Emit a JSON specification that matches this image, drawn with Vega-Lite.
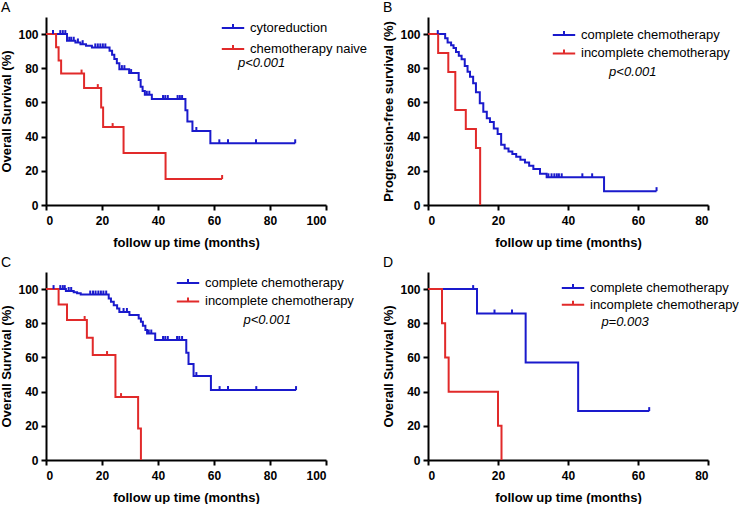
{
  "$schema": "https://vega.github.io/schema/vega-lite/v6.json",
  "padding": {"left": 0, "top": 1, "right": 0, "bottom": 0},
  "background": "white",
  "config": {
    "font": "Liberation Sans",
    "view": {"stroke": null},
    "axis": {"domainColor": "#000", "domainWidth": 2, "tickColor": "#000", "tickWidth": 2, "tickSize": 5, "labelFont": "Liberation Sans", "labelFontSize": 12, "labelFontWeight": "bold", "labelColor": "#000", "labelOverlap": false, "titleFont": "Liberation Sans", "titleFontSize": 13, "titleFontWeight": "bold", "titleColor": "#000", "grid": false},
    "axisY": {"labelPadding": 3, "titlePadding": 4, "labelOverlap": false, "labelBound": false},
    "axisX": {"labelPadding": 5, "titlePadding": 10},
    "title": {"anchor": "start", "frame": "bounds", "fontSize": 14, "fontWeight": "normal", "color": "#000", "offset": 2, "font": "Liberation Sans"},
    "legend": {"orient": "none", "title": null, "padding": 0, "labelFont": "Liberation Sans", "labelFontSize": 13, "labelFontWeight": "normal", "labelColor": "#000", "labelLimit": 300, "symbolType": "M-1.4,0H1.4M0,0V-0.5", "symbolSize": 256, "symbolStrokeWidth": 2, "labelOffset": 8}
  },
  "datasets": {
    "A": [
      {"g": "cytoreduction", "t": 0, "s": 100, "c": 0},
      {"g": "cytoreduction", "t": 2.5, "s": 100, "c": 1},
      {"g": "cytoreduction", "t": 5.1, "s": 100, "c": 1},
      {"g": "cytoreduction", "t": 6.0, "s": 100, "c": 1},
      {"g": "cytoreduction", "t": 6.9, "s": 100, "c": 1},
      {"g": "cytoreduction", "t": 7.5, "s": 96.1, "c": 0},
      {"g": "cytoreduction", "t": 8.3, "s": 96.1, "c": 1},
      {"g": "cytoreduction", "t": 9.0, "s": 96.1, "c": 1},
      {"g": "cytoreduction", "t": 9.9, "s": 96.1, "c": 1},
      {"g": "cytoreduction", "t": 10.5, "s": 95.1, "c": 0},
      {"g": "cytoreduction", "t": 11.4, "s": 95.1, "c": 1},
      {"g": "cytoreduction", "t": 12.3, "s": 94.1, "c": 0},
      {"g": "cytoreduction", "t": 13.1, "s": 94.1, "c": 1},
      {"g": "cytoreduction", "t": 14.3, "s": 93.2, "c": 0},
      {"g": "cytoreduction", "t": 16.4, "s": 92.2, "c": 0},
      {"g": "cytoreduction", "t": 17.6, "s": 92.2, "c": 1},
      {"g": "cytoreduction", "t": 18.5, "s": 92.2, "c": 1},
      {"g": "cytoreduction", "t": 19.4, "s": 92.2, "c": 1},
      {"g": "cytoreduction", "t": 20.3, "s": 92.2, "c": 1},
      {"g": "cytoreduction", "t": 21.2, "s": 92.2, "c": 1},
      {"g": "cytoreduction", "t": 22.7, "s": 90.3, "c": 0},
      {"g": "cytoreduction", "t": 23.6, "s": 87.9, "c": 0},
      {"g": "cytoreduction", "t": 24.4, "s": 85.4, "c": 0},
      {"g": "cytoreduction", "t": 25.3, "s": 82.9, "c": 0},
      {"g": "cytoreduction", "t": 26.2, "s": 79.5, "c": 0},
      {"g": "cytoreduction", "t": 27.1, "s": 79.5, "c": 1},
      {"g": "cytoreduction", "t": 28.0, "s": 79.5, "c": 1},
      {"g": "cytoreduction", "t": 29.7, "s": 77.2, "c": 0},
      {"g": "cytoreduction", "t": 30.4, "s": 77.2, "c": 1},
      {"g": "cytoreduction", "t": 33.1, "s": 73.1, "c": 0},
      {"g": "cytoreduction", "t": 33.8, "s": 69.2, "c": 0},
      {"g": "cytoreduction", "t": 34.5, "s": 66.7, "c": 0},
      {"g": "cytoreduction", "t": 35.3, "s": 64.5, "c": 0},
      {"g": "cytoreduction", "t": 36.0, "s": 64.5, "c": 1},
      {"g": "cytoreduction", "t": 36.9, "s": 64.5, "c": 1},
      {"g": "cytoreduction", "t": 37.8, "s": 62, "c": 0},
      {"g": "cytoreduction", "t": 41.8, "s": 62, "c": 1},
      {"g": "cytoreduction", "t": 42.6, "s": 62, "c": 1},
      {"g": "cytoreduction", "t": 43.5, "s": 62, "c": 1},
      {"g": "cytoreduction", "t": 47.0, "s": 62, "c": 1},
      {"g": "cytoreduction", "t": 47.8, "s": 62, "c": 1},
      {"g": "cytoreduction", "t": 48.6, "s": 62, "c": 1},
      {"g": "cytoreduction", "t": 49.8, "s": 55.4, "c": 0},
      {"g": "cytoreduction", "t": 50.5, "s": 48.9, "c": 0},
      {"g": "cytoreduction", "t": 52.3, "s": 43.3, "c": 0},
      {"g": "cytoreduction", "t": 53.7, "s": 43.3, "c": 1},
      {"g": "cytoreduction", "t": 58.7, "s": 36.1, "c": 0},
      {"g": "cytoreduction", "t": 61.9, "s": 36.1, "c": 1},
      {"g": "cytoreduction", "t": 65, "s": 36.1, "c": 1},
      {"g": "cytoreduction", "t": 75, "s": 36.1, "c": 1},
      {"g": "cytoreduction", "t": 89, "s": 36.1, "c": 1},
      {"g": "chemotherapy naive", "t": 0, "s": 100, "c": 0},
      {"g": "chemotherapy naive", "t": 3.6, "s": 92.3, "c": 0},
      {"g": "chemotherapy naive", "t": 4.5, "s": 84.6, "c": 0},
      {"g": "chemotherapy naive", "t": 5.4, "s": 76.9, "c": 0},
      {"g": "chemotherapy naive", "t": 12.7, "s": 76.9, "c": 1},
      {"g": "chemotherapy naive", "t": 13.6, "s": 68.4, "c": 0},
      {"g": "chemotherapy naive", "t": 18.5, "s": 68.4, "c": 1},
      {"g": "chemotherapy naive", "t": 19.7, "s": 57, "c": 0},
      {"g": "chemotherapy naive", "t": 20.4, "s": 45.6, "c": 0},
      {"g": "chemotherapy naive", "t": 23.8, "s": 45.6, "c": 1},
      {"g": "chemotherapy naive", "t": 27.7, "s": 30.4, "c": 0},
      {"g": "chemotherapy naive", "t": 42.7, "s": 15.2, "c": 0},
      {"g": "chemotherapy naive", "t": 62.9, "s": 15.2, "c": 1}
    ],
    "B": [
      {"g": "complete chemotherapy", "t": 0, "s": 100, "c": 0},
      {"g": "complete chemotherapy", "t": 2.8, "s": 100, "c": 1},
      {"g": "complete chemotherapy", "t": 4.9, "s": 97.5, "c": 0},
      {"g": "complete chemotherapy", "t": 5.6, "s": 95.1, "c": 0},
      {"g": "complete chemotherapy", "t": 6.6, "s": 93.5, "c": 0},
      {"g": "complete chemotherapy", "t": 7.3, "s": 91.9, "c": 0},
      {"g": "complete chemotherapy", "t": 8.0, "s": 89.5, "c": 0},
      {"g": "complete chemotherapy", "t": 8.8, "s": 87.4, "c": 0},
      {"g": "complete chemotherapy", "t": 9.6, "s": 85.3, "c": 0},
      {"g": "complete chemotherapy", "t": 10.5, "s": 81.4, "c": 0},
      {"g": "complete chemotherapy", "t": 11.3, "s": 78, "c": 0},
      {"g": "complete chemotherapy", "t": 12.0, "s": 75, "c": 0},
      {"g": "complete chemotherapy", "t": 12.9, "s": 71.3, "c": 0},
      {"g": "complete chemotherapy", "t": 13.7, "s": 66, "c": 0},
      {"g": "complete chemotherapy", "t": 14.8, "s": 59.5, "c": 0},
      {"g": "complete chemotherapy", "t": 15.8, "s": 54.5, "c": 0},
      {"g": "complete chemotherapy", "t": 16.8, "s": 50.8, "c": 0},
      {"g": "complete chemotherapy", "t": 17.7, "s": 48.5, "c": 0},
      {"g": "complete chemotherapy", "t": 18.8, "s": 44.8, "c": 0},
      {"g": "complete chemotherapy", "t": 19.9, "s": 41.5, "c": 0},
      {"g": "complete chemotherapy", "t": 20.9, "s": 35.3, "c": 0},
      {"g": "complete chemotherapy", "t": 21.9, "s": 33, "c": 0},
      {"g": "complete chemotherapy", "t": 23.0, "s": 31.3, "c": 0},
      {"g": "complete chemotherapy", "t": 24.1, "s": 29.8, "c": 0},
      {"g": "complete chemotherapy", "t": 25.2, "s": 28.2, "c": 0},
      {"g": "complete chemotherapy", "t": 26.4, "s": 26.5, "c": 0},
      {"g": "complete chemotherapy", "t": 27.7, "s": 24.8, "c": 0},
      {"g": "complete chemotherapy", "t": 28.9, "s": 23, "c": 0},
      {"g": "complete chemotherapy", "t": 30.1, "s": 21, "c": 0},
      {"g": "complete chemotherapy", "t": 32.0, "s": 18.3, "c": 0},
      {"g": "complete chemotherapy", "t": 33.9, "s": 16.2, "c": 0},
      {"g": "complete chemotherapy", "t": 34.4, "s": 16.2, "c": 1},
      {"g": "complete chemotherapy", "t": 35.3, "s": 16.2, "c": 1},
      {"g": "complete chemotherapy", "t": 36.1, "s": 16.2, "c": 1},
      {"g": "complete chemotherapy", "t": 36.8, "s": 16.2, "c": 1},
      {"g": "complete chemotherapy", "t": 37.4, "s": 16.2, "c": 1},
      {"g": "complete chemotherapy", "t": 38.2, "s": 16.2, "c": 1},
      {"g": "complete chemotherapy", "t": 44.1, "s": 16.2, "c": 1},
      {"g": "complete chemotherapy", "t": 46.9, "s": 16.2, "c": 1},
      {"g": "complete chemotherapy", "t": 50.3, "s": 8.1, "c": 0},
      {"g": "complete chemotherapy", "t": 65.3, "s": 8.1, "c": 1},
      {"g": "incomplete chemotherapy", "t": 0, "s": 100, "c": 0},
      {"g": "incomplete chemotherapy", "t": 2.9, "s": 88.9, "c": 0},
      {"g": "incomplete chemotherapy", "t": 5.8, "s": 77.8, "c": 0},
      {"g": "incomplete chemotherapy", "t": 7.8, "s": 55.6, "c": 0},
      {"g": "incomplete chemotherapy", "t": 10.8, "s": 44.4, "c": 0},
      {"g": "incomplete chemotherapy", "t": 13.7, "s": 33.3, "c": 0},
      {"g": "incomplete chemotherapy", "t": 14.9, "s": 0, "c": 0}
    ],
    "C": [
      {"g": "complete chemotherapy", "t": 0, "s": 100, "c": 0},
      {"g": "complete chemotherapy", "t": 2.7, "s": 100, "c": 1},
      {"g": "complete chemotherapy", "t": 5.1, "s": 100, "c": 1},
      {"g": "complete chemotherapy", "t": 6.0, "s": 100, "c": 1},
      {"g": "complete chemotherapy", "t": 6.7, "s": 100, "c": 1},
      {"g": "complete chemotherapy", "t": 7.1, "s": 98.9, "c": 0},
      {"g": "complete chemotherapy", "t": 8.1, "s": 98.9, "c": 1},
      {"g": "complete chemotherapy", "t": 9.0, "s": 98.9, "c": 1},
      {"g": "complete chemotherapy", "t": 9.9, "s": 98.1, "c": 0},
      {"g": "complete chemotherapy", "t": 11.1, "s": 97.5, "c": 0},
      {"g": "complete chemotherapy", "t": 12.4, "s": 96.8, "c": 0},
      {"g": "complete chemotherapy", "t": 15.8, "s": 96.8, "c": 1},
      {"g": "complete chemotherapy", "t": 16.8, "s": 96.8, "c": 1},
      {"g": "complete chemotherapy", "t": 17.7, "s": 96.8, "c": 1},
      {"g": "complete chemotherapy", "t": 18.7, "s": 96.8, "c": 1},
      {"g": "complete chemotherapy", "t": 19.6, "s": 96.8, "c": 1},
      {"g": "complete chemotherapy", "t": 20.5, "s": 96.8, "c": 1},
      {"g": "complete chemotherapy", "t": 21.5, "s": 96.8, "c": 1},
      {"g": "complete chemotherapy", "t": 22.4, "s": 94.5, "c": 0},
      {"g": "complete chemotherapy", "t": 23.2, "s": 92.6, "c": 0},
      {"g": "complete chemotherapy", "t": 24.2, "s": 90.6, "c": 0},
      {"g": "complete chemotherapy", "t": 25.4, "s": 88.7, "c": 0},
      {"g": "complete chemotherapy", "t": 26.2, "s": 86.6, "c": 0},
      {"g": "complete chemotherapy", "t": 27.7, "s": 86.6, "c": 1},
      {"g": "complete chemotherapy", "t": 28.9, "s": 86.6, "c": 1},
      {"g": "complete chemotherapy", "t": 29.8, "s": 84.8, "c": 0},
      {"g": "complete chemotherapy", "t": 33.1, "s": 82.8, "c": 0},
      {"g": "complete chemotherapy", "t": 33.9, "s": 80.9, "c": 0},
      {"g": "complete chemotherapy", "t": 34.6, "s": 78.5, "c": 0},
      {"g": "complete chemotherapy", "t": 35.5, "s": 76, "c": 0},
      {"g": "complete chemotherapy", "t": 36.1, "s": 74, "c": 0},
      {"g": "complete chemotherapy", "t": 36.7, "s": 74, "c": 1},
      {"g": "complete chemotherapy", "t": 37.6, "s": 74, "c": 1},
      {"g": "complete chemotherapy", "t": 39.0, "s": 70.2, "c": 0},
      {"g": "complete chemotherapy", "t": 41.8, "s": 70.2, "c": 1},
      {"g": "complete chemotherapy", "t": 42.6, "s": 70.2, "c": 1},
      {"g": "complete chemotherapy", "t": 43.5, "s": 70.2, "c": 1},
      {"g": "complete chemotherapy", "t": 46.8, "s": 70.2, "c": 1},
      {"g": "complete chemotherapy", "t": 47.6, "s": 70.2, "c": 1},
      {"g": "complete chemotherapy", "t": 48.6, "s": 70.2, "c": 1},
      {"g": "complete chemotherapy", "t": 50.1, "s": 62.7, "c": 0},
      {"g": "complete chemotherapy", "t": 50.9, "s": 56.1, "c": 0},
      {"g": "complete chemotherapy", "t": 52.7, "s": 49.1, "c": 0},
      {"g": "complete chemotherapy", "t": 53.7, "s": 49.1, "c": 1},
      {"g": "complete chemotherapy", "t": 58.9, "s": 40.9, "c": 0},
      {"g": "complete chemotherapy", "t": 62, "s": 40.9, "c": 1},
      {"g": "complete chemotherapy", "t": 65, "s": 40.9, "c": 1},
      {"g": "complete chemotherapy", "t": 75.1, "s": 40.9, "c": 1},
      {"g": "complete chemotherapy", "t": 89.3, "s": 40.9, "c": 1},
      {"g": "incomplete chemotherapy", "t": 0, "s": 100, "c": 0},
      {"g": "incomplete chemotherapy", "t": 4.5, "s": 91, "c": 0},
      {"g": "incomplete chemotherapy", "t": 7.5, "s": 81.9, "c": 0},
      {"g": "incomplete chemotherapy", "t": 13.8, "s": 81.9, "c": 1},
      {"g": "incomplete chemotherapy", "t": 14.6, "s": 71.6, "c": 0},
      {"g": "incomplete chemotherapy", "t": 16.7, "s": 61.4, "c": 0},
      {"g": "incomplete chemotherapy", "t": 21.8, "s": 61.4, "c": 1},
      {"g": "incomplete chemotherapy", "t": 24.8, "s": 36.8, "c": 0},
      {"g": "incomplete chemotherapy", "t": 26.8, "s": 36.8, "c": 1},
      {"g": "incomplete chemotherapy", "t": 32.9, "s": 18.4, "c": 0},
      {"g": "incomplete chemotherapy", "t": 33.9, "s": 0, "c": 0}
    ],
    "D": [
      {"g": "complete chemotherapy", "t": 0, "s": 100, "c": 0},
      {"g": "complete chemotherapy", "t": 12.9, "s": 100, "c": 1},
      {"g": "complete chemotherapy", "t": 14, "s": 85.7, "c": 0},
      {"g": "complete chemotherapy", "t": 19, "s": 85.7, "c": 1},
      {"g": "complete chemotherapy", "t": 24, "s": 85.7, "c": 1},
      {"g": "complete chemotherapy", "t": 27.9, "s": 57.1, "c": 0},
      {"g": "complete chemotherapy", "t": 42.9, "s": 28.6, "c": 0},
      {"g": "complete chemotherapy", "t": 63.2, "s": 28.6, "c": 1},
      {"g": "incomplete chemotherapy", "t": 0, "s": 100, "c": 0},
      {"g": "incomplete chemotherapy", "t": 4, "s": 80, "c": 0},
      {"g": "incomplete chemotherapy", "t": 4.9, "s": 60, "c": 0},
      {"g": "incomplete chemotherapy", "t": 5.9, "s": 40, "c": 0},
      {"g": "incomplete chemotherapy", "t": 20, "s": 20, "c": 0},
      {"g": "incomplete chemotherapy", "t": 21, "s": 0, "c": 0}
    ]
  },
  "columns": 2,
  "spacing": {"row": 67, "column": 102},
  "bounds": "flush",
  "resolve": {"scale": {"color": "independent", "x": "independent", "y": "independent"}, "legend": {"color": "independent"}},
  "concat": [
    {
      "width": 280, "height": 188, "title": "A",
      "data": {"name": "A"},
      "layer": [
        {"mark": {"type": "line", "interpolate": "step-after", "strokeWidth": 2},
         "encoding": {
           "x": {"field": "t", "type": "quantitative", "scale": {"domain": [0, 100], "nice": false}, "axis": {"values": [0, 20, 40, 60, 80, 100], "title": "follow up time (months)"}},
           "y": {"field": "s", "type": "quantitative", "scale": {"domain": [0, 110], "nice": false}, "axis": {"values": [0, 20, 40, 60, 80, 100], "labelOverlap": false, "tickCount": 6, "title": "Overall Survival (%)"}},
           "color": {"field": "g", "type": "nominal", "scale": {"domain": ["cytoreduction", "chemotherapy naive"], "range": ["#1a1acc", "#e12a2a"]}, "legend": {"legendX": 178, "legendY": 2, "rowPadding": 5}}
         }},
        {"transform": [{"filter": "datum.c == 1"}],
         "mark": {"type": "point", "shape": "M0,0V-1", "size": 64, "filled": false, "strokeWidth": 2, "opacity": 1},
         "encoding": {
           "x": {"field": "t", "type": "quantitative"},
           "y": {"field": "s", "type": "quantitative"},
           "color": {"field": "g", "type": "nominal"}
         }},
        {"data": {"values": [{"t": 77, "s": 83, "label": "p<0.001"}]},
         "mark": {"type": "text", "fontStyle": "italic", "fontSize": 13, "color": "#000"},
         "encoding": {
           "x": {"field": "t", "type": "quantitative"},
           "y": {"field": "s", "type": "quantitative"},
           "text": {"field": "label"}
         }}
      ]
    },
    {
      "width": 280, "height": 188, "title": "B",
      "data": {"name": "B"},
      "layer": [
        {"mark": {"type": "line", "interpolate": "step-after", "strokeWidth": 2},
         "encoding": {
           "x": {"field": "t", "type": "quantitative", "scale": {"domain": [0, 80], "nice": false}, "axis": {"values": [0, 20, 40, 60, 80], "title": "follow up time (months)"}},
           "y": {"field": "s", "type": "quantitative", "scale": {"domain": [0, 110], "nice": false}, "axis": {"values": [0, 20, 40, 60, 80, 100], "labelOverlap": false, "tickCount": 6, "title": "Progression-free survival (%)"}},
           "color": {"field": "g", "type": "nominal", "scale": {"domain": ["complete chemotherapy", "incomplete chemotherapy"], "range": ["#1a1acc", "#e12a2a"]}, "legend": {"legendX": 127, "legendY": 9, "rowPadding": 2.4}}
         }},
        {"transform": [{"filter": "datum.c == 1"}],
         "mark": {"type": "point", "shape": "M0,0V-1", "size": 64, "filled": false, "strokeWidth": 2, "opacity": 1},
         "encoding": {
           "x": {"field": "t", "type": "quantitative"},
           "y": {"field": "s", "type": "quantitative"},
           "color": {"field": "g", "type": "nominal"}
         }},
        {"data": {"values": [{"t": 58.5, "s": 78, "label": "p<0.001"}]},
         "mark": {"type": "text", "fontStyle": "italic", "fontSize": 13, "color": "#000"},
         "encoding": {
           "x": {"field": "t", "type": "quantitative"},
           "y": {"field": "s", "type": "quantitative"},
           "text": {"field": "label"}
         }}
      ]
    },
    {
      "width": 280, "height": 188, "title": "C",
      "data": {"name": "C"},
      "layer": [
        {"mark": {"type": "line", "interpolate": "step-after", "strokeWidth": 2},
         "encoding": {
           "x": {"field": "t", "type": "quantitative", "scale": {"domain": [0, 100], "nice": false}, "axis": {"values": [0, 20, 40, 60, 80, 100], "title": "follow up time (months)"}},
           "y": {"field": "s", "type": "quantitative", "scale": {"domain": [0, 110], "nice": false}, "axis": {"values": [0, 20, 40, 60, 80, 100], "labelOverlap": false, "tickCount": 6, "title": "Overall Survival (%)"}},
           "color": {"field": "g", "type": "nominal", "scale": {"domain": ["complete chemotherapy", "incomplete chemotherapy"], "range": ["#1a1acc", "#e12a2a"]}, "legend": {"legendX": 133, "legendY": 2, "rowPadding": 2.4}}
         }},
        {"transform": [{"filter": "datum.c == 1"}],
         "mark": {"type": "point", "shape": "M0,0V-1", "size": 64, "filled": false, "strokeWidth": 2, "opacity": 1},
         "encoding": {
           "x": {"field": "t", "type": "quantitative"},
           "y": {"field": "s", "type": "quantitative"},
           "color": {"field": "g", "type": "nominal"}
         }},
        {"data": {"values": [{"t": 79, "s": 82, "label": "p<0.001"}]},
         "mark": {"type": "text", "fontStyle": "italic", "fontSize": 13, "color": "#000"},
         "encoding": {
           "x": {"field": "t", "type": "quantitative"},
           "y": {"field": "s", "type": "quantitative"},
           "text": {"field": "label"}
         }}
      ]
    },
    {
      "width": 280, "height": 188, "title": "D",
      "data": {"name": "D"},
      "layer": [
        {"mark": {"type": "line", "interpolate": "step-after", "strokeWidth": 2},
         "encoding": {
           "x": {"field": "t", "type": "quantitative", "scale": {"domain": [0, 80], "nice": false}, "axis": {"values": [0, 20, 40, 60, 80], "title": "follow up time (months)"}},
           "y": {"field": "s", "type": "quantitative", "scale": {"domain": [0, 110], "nice": false}, "axis": {"values": [0, 20, 40, 60, 80, 100], "labelOverlap": false, "tickCount": 6, "title": "Overall Survival (%)"}},
           "color": {"field": "g", "type": "nominal", "scale": {"domain": ["complete chemotherapy", "incomplete chemotherapy"], "range": ["#1a1acc", "#e12a2a"]}, "legend": {"legendX": 136, "legendY": 7, "rowPadding": 0.7}}
         }},
        {"transform": [{"filter": "datum.c == 1"}],
         "mark": {"type": "point", "shape": "M0,0V-1", "size": 64, "filled": false, "strokeWidth": 2, "opacity": 1},
         "encoding": {
           "x": {"field": "t", "type": "quantitative"},
           "y": {"field": "s", "type": "quantitative"},
           "color": {"field": "g", "type": "nominal"}
         }},
        {"data": {"values": [{"t": 56.3, "s": 81, "label": "p=0.003"}]},
         "mark": {"type": "text", "fontStyle": "italic", "fontSize": 13, "color": "#000"},
         "encoding": {
           "x": {"field": "t", "type": "quantitative"},
           "y": {"field": "s", "type": "quantitative"},
           "text": {"field": "label"}
         }}
      ]
    }
  ]
}
